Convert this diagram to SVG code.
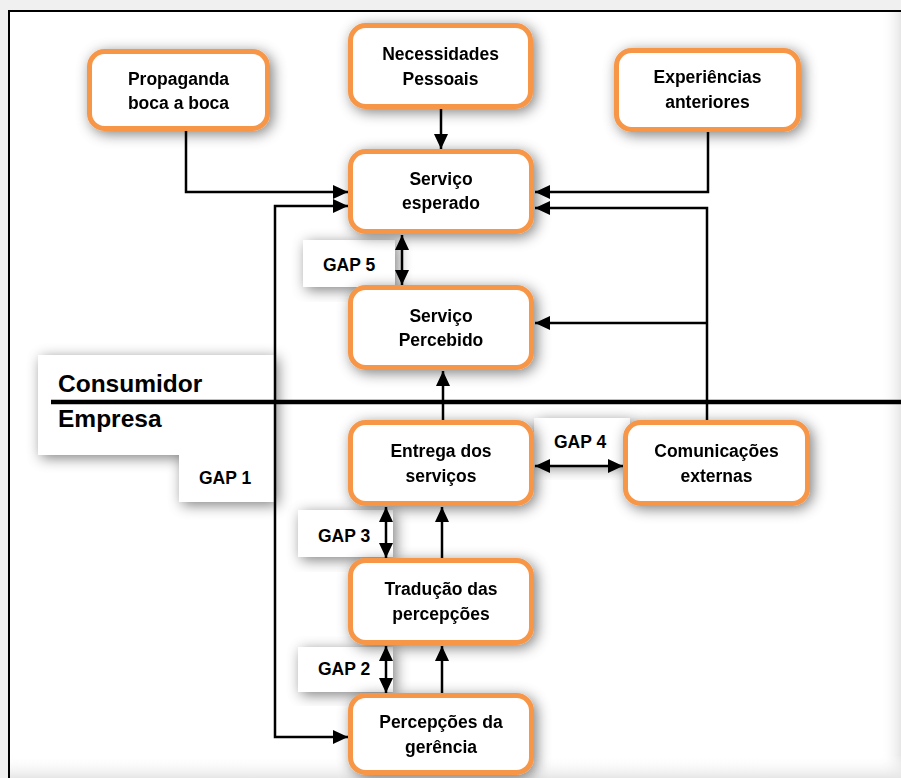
<svg xmlns="http://www.w3.org/2000/svg" width="901" height="778" viewBox="0 0 901 778">
<defs>
<filter id="sh" x="-30%" y="-30%" width="160%" height="160%">
<feGaussianBlur in="SourceAlpha" stdDeviation="7"/>
<feOffset dx="3" dy="3" result="b"/>
<feFlood flood-color="#000" flood-opacity="0.5"/>
<feComposite in2="b" operator="in"/>
<feMerge><feMergeNode/><feMergeNode in="SourceGraphic"/></feMerge>
</filter>
<linearGradient id="gr" x1="0" y1="0" x2="1" y2="0">
<stop offset="0" stop-color="#fff" stop-opacity="0"/>
<stop offset="1" stop-color="#e6e6e6"/>
</linearGradient>
<linearGradient id="gb" x1="0" y1="0" x2="0" y2="1">
<stop offset="0" stop-color="#fff" stop-opacity="0"/>
<stop offset="1" stop-color="#e6e6e6"/>
</linearGradient>
<marker id="ah" markerUnits="userSpaceOnUse" markerWidth="16" markerHeight="14" refX="15" refY="7" orient="auto-start-reverse">
<path d="M0,0 L15,7 L0,14 z" fill="#000"/>
</marker>
<style>
.n rect{fill:#fff;stroke:#F79646;stroke-width:5}
.t{font-family:"Liberation Sans",Arial,sans-serif;font-weight:bold;font-size:17.5px;fill:#000;text-anchor:middle}
.g{font-family:"Liberation Sans",Arial,sans-serif;font-weight:bold;font-size:17.5px;fill:#000}
.big{font-family:"Liberation Sans",Arial,sans-serif;font-weight:bold;font-size:24.5px;fill:#000}
.c{fill:none;stroke:#000;stroke-width:2.5}
.div{fill:none;stroke:#000;stroke-width:4.5}
.lb{fill:#fff}
</style>
</defs>
<rect width="901" height="778" fill="#f0f0f0"/>
<rect x="9" y="11" width="900" height="780" fill="#fff" stroke="#000" stroke-width="2"/>
<rect x="880" y="12" width="21" height="766" fill="url(#gr)"/>
<rect x="10" y="755" width="891" height="23" fill="url(#gb)"/>

<g id="labels">
<g id="lbl-consumidor-empresa" filter="url(#sh)">
<polygon class="lb" points="38,355 275,355 275,502 179,502 179,455 38,455"/>
</g>
<g id="lbl-gap5" filter="url(#sh)"><rect class="lb" x="303" y="240" width="92" height="47"/></g>
<g id="lbl-gap4" filter="url(#sh)"><rect class="lb" x="534" y="418" width="96" height="47"/></g>
<g id="lbl-gap3" filter="url(#sh)"><rect class="lb" x="298" y="510" width="95" height="47"/></g>
<g id="lbl-gap2" filter="url(#sh)"><rect class="lb" x="298" y="647" width="95" height="45"/></g>
</g>

<g id="nodes">
<g id="propaganda" class="n" filter="url(#sh)">
<rect x="89.5" y="51.5" width="178" height="77" rx="15"/>
<text class="t" x="178.5" y="85">Propaganda</text>
<text class="t" x="178.5" y="109">boca a boca</text>
</g>
<g id="necessidades" class="n" filter="url(#sh)">
<rect x="350.5" y="25.5" width="180" height="81" rx="15"/>
<text class="t" x="440.5" y="60">Necessidades</text>
<text class="t" x="440.5" y="85">Pessoais</text>
</g>
<g id="experiencias" class="n" filter="url(#sh)">
<rect x="616.5" y="50.5" width="182" height="79" rx="15"/>
<text class="t" x="707.5" y="83">Experiências</text>
<text class="t" x="707.5" y="108">anteriores</text>
</g>
<g id="servico-esperado" class="n" filter="url(#sh)">
<rect x="350.5" y="151.5" width="181" height="80" rx="15"/>
<text class="t" x="441" y="185">Serviço</text>
<text class="t" x="441" y="209">esperado</text>
</g>
<g id="servico-percebido" class="n" filter="url(#sh)">
<rect x="350.5" y="287.5" width="181" height="80" rx="15"/>
<text class="t" x="441" y="322">Serviço</text>
<text class="t" x="441" y="346">Percebido</text>
</g>
<g id="entrega" class="n" filter="url(#sh)">
<rect x="350.5" y="422.5" width="181" height="81" rx="15"/>
<text class="t" x="441" y="457">Entrega dos</text>
<text class="t" x="441" y="482">serviços</text>
</g>
<g id="comunicacoes" class="n" filter="url(#sh)">
<rect x="625.5" y="422.5" width="182" height="81" rx="15"/>
<text class="t" x="716.5" y="457">Comunicações</text>
<text class="t" x="716.5" y="482">externas</text>
</g>
<g id="traducao" class="n" filter="url(#sh)">
<rect x="350.5" y="560.5" width="181" height="82" rx="15"/>
<text class="t" x="441" y="595">Tradução das</text>
<text class="t" x="441" y="620">percepções</text>
</g>
<g id="percepcoes" class="n" filter="url(#sh)">
<rect x="350.5" y="695.5" width="181" height="77" rx="15"/>
<text class="t" x="441" y="728">Percepções da</text>
<text class="t" x="441" y="753">gerência</text>
</g>
</g>

<g id="texts">
<text class="big" x="58" y="392">Consumidor</text>
<text class="big" x="58" y="427">Empresa</text>
<text class="g" x="199" y="484">GAP 1</text>
<text class="g" x="323" y="271">GAP 5</text>
<text class="g" x="554" y="448">GAP 4</text>
<text class="g" x="318" y="542">GAP 3</text>
<text class="g" x="318" y="675">GAP 2</text>
</g>

<g id="connectors">
<path class="div" d="M51,402 H901"/>
<path class="c" d="M186,131 V192 H348" marker-end="url(#ah)"/>
<path class="c" d="M348,206 H275 V737 H348" marker-start="url(#ah)" marker-end="url(#ah)"/>
<path class="c" d="M441,109 V149" marker-end="url(#ah)"/>
<path class="c" d="M708,132 V192 H535" marker-end="url(#ah)"/>
<path class="c" d="M707,420 V208 H535" marker-end="url(#ah)"/>
<path class="c" d="M707,323 H535" marker-end="url(#ah)"/>
<path class="c" d="M402,235 V285" marker-start="url(#ah)" marker-end="url(#ah)"/>
<path class="c" d="M443,420 V371" marker-end="url(#ah)"/>
<path class="c" d="M535,466 H623" marker-start="url(#ah)" marker-end="url(#ah)"/>
<path class="c" d="M386,507 V558" marker-start="url(#ah)" marker-end="url(#ah)"/>
<path class="c" d="M442,558 V507" marker-end="url(#ah)"/>
<path class="c" d="M386,646 V693" marker-start="url(#ah)" marker-end="url(#ah)"/>
<path class="c" d="M442,693 V646" marker-end="url(#ah)"/>
</g>
</svg>
